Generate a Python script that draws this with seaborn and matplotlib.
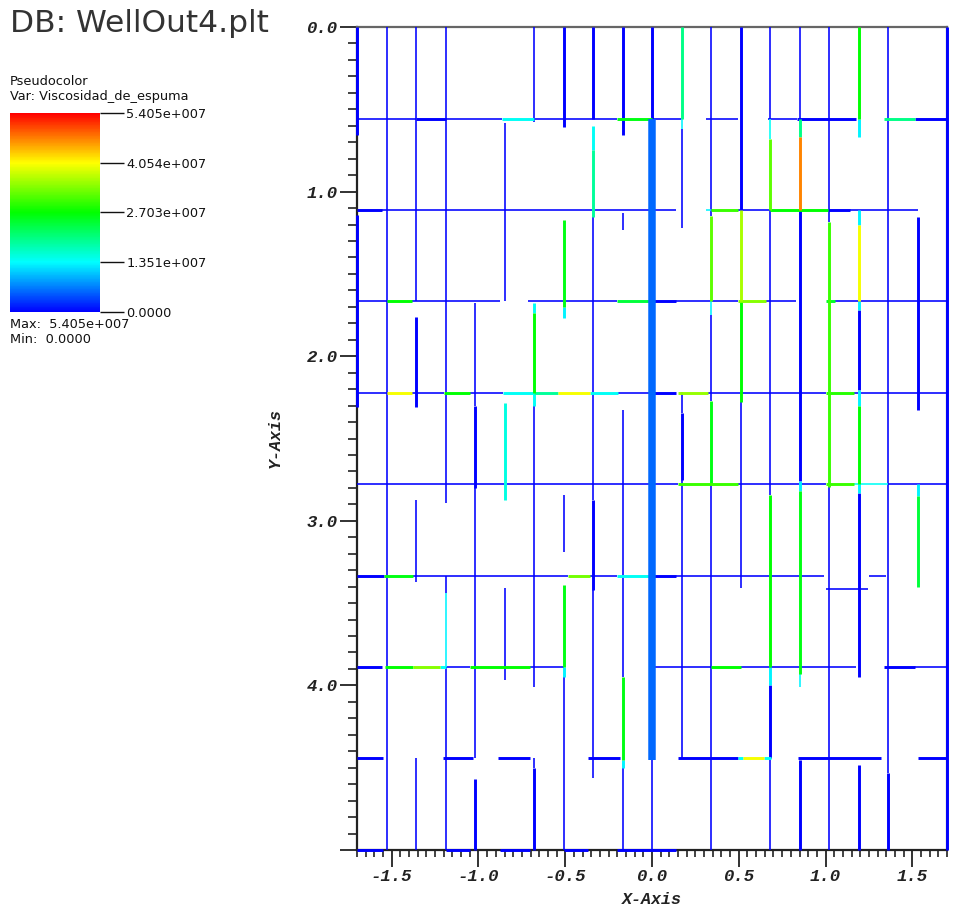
import matplotlib
matplotlib.use("Agg")
import numpy as np
import pandas as pd
import matplotlib.pyplot as plt
import seaborn as sns
from matplotlib.colors import LinearSegmentedColormap, Normalize
from matplotlib.cm import ScalarMappable
from matplotlib.ticker import MultipleLocator

# ---------------- data ----------------
TITLE = "DB: WellOut4.plt"
PLOT_NAME = "Pseudocolor"
VAR_NAME = "Var: Viscosidad_de_espuma"
VMIN, VMAX = 0.0, 5.405          # in units of 1e7
CBAR_TICKS = [0.0, 1.351, 2.703, 4.054, 5.405]
CBAR_LABELS = ["0.0000", "1.351e+007", "2.703e+007", "4.054e+007", "5.405e+007"]
MAX_TEXT = "Max:  5.405e+007"
MIN_TEXT = "Min:  0.0000"

X_TICKS = [-1.5, -1.0, -0.5, 0.0, 0.5, 1.0, 1.5]
X_TICK_LABELS = ["-1.5", "-1.0", "-0.5", "0.0", "0.5", "1.0", "1.5"]
Y_TICKS = [0, 1, 2, 3, 4, 5]
Y_TICK_LABELS = ["0.0", "1.0", "2.0", "3.0", "4.0", ""]
X_RANGE = (-1.7, 1.7)
Y_RANGE = (5.0, 0.0)

# vertical fracture segments: (x, y_start, y_end, value[1e7], aperture)
VERTICAL = [
    (-1.70, 0.000, 0.656, 0.0, "thick"), (-1.70, 1.140, 2.309, 0.0, "thick"),
    (-1.53, 0.000, 5.000, 0.0, "thin"),
    (-1.36, 0.000, 1.667, 0.0, "thin"), (-1.36, 1.762, 2.309, 0.0, "thick"),
    (-1.36, 2.874, 3.372, 0.0, "thin"), (-1.36, 4.444, 5.000, 0.0, "thin"),
    (-1.19, 0.000, 2.892, 0.0, "thin"), (-1.19, 3.333, 3.440, 0.0, "thin"),
    (-1.19, 3.440, 3.889, 1.3, "thin"), (-1.19, 3.889, 5.000, 0.0, "thin"),
    (-1.02, 1.677, 2.300, 0.0, "thin"), (-1.02, 2.300, 2.800, 0.0, "thick"),
    (-1.02, 2.800, 4.444, 0.0, "thin"), (-1.02, 4.570, 5.000, 0.0, "thick"),
    (-0.85, 0.583, 1.667, 0.0, "thin"), (-0.85, 2.284, 2.874, 1.5, "thick"),
    (-0.85, 3.408, 3.967, 0.0, "thin"),
    (-0.68, 0.000, 0.577, 0.0, "thin"), (-0.68, 1.677, 1.740, 1.4, "thick"),
    (-0.68, 1.740, 2.222, 2.7, "thick"), (-0.68, 2.222, 2.300, 1.4, "thick"),
    (-0.68, 2.300, 4.010, 0.0, "thin"), (-0.68, 4.444, 4.500, 0.0, "thin"),
    (-0.68, 4.500, 5.000, 0.0, "thick"),
    (-0.51, 0.000, 0.608, 0.0, "thick"), (-0.51, 1.173, 1.700, 2.6, "thick"),
    (-0.51, 1.700, 1.768, 1.3, "thick"), (-0.51, 2.843, 3.190, 0.0, "thin"),
    (-0.51, 3.390, 3.889, 2.6, "thick"), (-0.51, 3.889, 3.950, 1.3, "thick"),
    (-0.51, 3.950, 5.000, 0.0, "thin"),
    (-0.34, 0.000, 0.556, 0.0, "thick"), (-0.34, 0.600, 0.750, 1.4, "thick"),
    (-0.34, 0.750, 1.154, 1.9, "thick"), (-0.34, 1.154, 2.874, 0.0, "thin"),
    (-0.34, 2.874, 3.420, 0.0, "thick"), (-0.34, 3.420, 4.563, 0.0, "thin"),
    (-0.17, 0.000, 0.656, 0.0, "thick"), (-0.17, 1.130, 1.233, 0.0, "thin"),
    (-0.17, 2.327, 3.949, 0.0, "thin"), (-0.17, 3.949, 4.453, 2.6, "thick"),
    (-0.17, 4.453, 4.500, 1.3, "thick"), (-0.17, 4.500, 5.000, 0.0, "thin"),
    (0.00, 0.000, 0.556, 0.0, "thick"), (0.00, 0.556, 4.453, 0.55, "bar"),
    (0.00, 4.453, 5.000, 0.0, "thin"),
    (0.17, 0.000, 0.556, 2.0, "thick"), (0.17, 0.556, 0.620, 1.3, "thin"),
    (0.17, 0.620, 1.221, 0.0, "thin"), (0.17, 2.218, 2.345, 0.0, "thin"),
    (0.17, 2.345, 2.750, 0.0, "thick"), (0.17, 2.750, 4.444, 0.0, "thin"),
    (0.34, 0.000, 1.150, 0.0, "thin"), (0.34, 1.150, 1.667, 3.2, "thick"),
    (0.34, 1.667, 1.750, 1.3, "thin"), (0.34, 1.750, 2.270, 0.0, "thin"),
    (0.34, 2.270, 2.778, 2.6, "thick"), (0.34, 2.778, 5.000, 0.0, "thin"),
    (0.51, 0.000, 1.111, 0.0, "thick"), (0.51, 1.111, 1.667, 3.6, "thick"),
    (0.51, 1.667, 2.280, 2.7, "thick"), (0.51, 2.280, 3.410, 0.0, "thin"),
    (0.68, 0.000, 0.556, 0.0, "thin"), (0.68, 0.556, 0.680, 1.4, "thin"),
    (0.68, 0.680, 1.111, 3.2, "thick"), (0.68, 1.111, 2.843, 0.0, "thin"),
    (0.68, 2.843, 3.889, 2.7, "thick"), (0.68, 3.889, 4.000, 1.3, "thick"),
    (0.68, 4.000, 4.444, 0.0, "thick"), (0.68, 4.444, 5.000, 0.0, "thin"),
    (0.85, 0.000, 0.556, 0.0, "thin"), (0.85, 0.556, 0.670, 2.0, "thick"),
    (0.85, 0.670, 1.111, 4.7, "thick"), (0.85, 1.111, 2.760, 0.0, "thick"),
    (0.85, 2.760, 2.820, 1.3, "thick"), (0.85, 2.820, 3.930, 2.6, "thick"),
    (0.85, 3.930, 4.010, 1.3, "thin"), (0.85, 4.453, 5.000, 0.0, "thick"),
    (1.02, 0.000, 1.185, 0.0, "thin"), (1.02, 1.185, 2.795, 3.0, "thick"),
    (1.02, 2.795, 5.000, 0.0, "thin"),
    (1.19, 0.000, 0.556, 2.7, "thick"), (1.19, 0.556, 0.668, 1.3, "thick"),
    (1.19, 1.111, 1.200, 1.3, "thick"), (1.19, 1.200, 1.667, 4.0, "thick"),
    (1.19, 1.667, 1.720, 1.3, "thick"), (1.19, 1.720, 2.205, 0.0, "thick"),
    (1.19, 2.205, 2.300, 1.3, "thick"), (1.19, 2.300, 2.778, 2.7, "thick"),
    (1.19, 2.778, 2.830, 1.3, "thick"), (1.19, 2.830, 3.950, 0.0, "thick"),
    (1.19, 4.483, 5.000, 0.0, "thick"),
    (1.36, 0.000, 4.530, 0.0, "thin"), (1.36, 4.530, 5.000, 0.0, "thick"),
    (1.53, 1.154, 2.327, 0.0, "thick"), (1.53, 2.778, 2.850, 1.3, "thick"),
    (1.53, 2.850, 3.402, 2.4, "thick"),
    (1.70, 0.000, 5.000, 0.0, "thick"),
]

# horizontal fracture segments: (y, x_start, x_end, value[1e7], aperture)
HORIZONTAL = [
    (0.556, -1.700, -1.360, 0.0, "thin"), (0.556, -1.360, -1.190, 0.0, "thick"),
    (0.556, -1.190, -0.867, 0.0, "thin"), (0.556, -0.867, -0.680, 1.4, "thick"),
    (0.556, -0.680, -0.204, 0.0, "thin"), (0.556, -0.204, 0.000, 2.6, "thick"),
    (0.556, 0.000, 0.165, 0.0, "thin"), (0.556, 0.309, 0.493, 0.0, "thin"),
    (0.556, 0.666, 0.833, 0.0, "thin"), (0.556, 0.833, 1.173, 0.0, "thick"),
    (0.556, 1.336, 1.513, 2.0, "thick"), (0.556, 1.513, 1.700, 0.0, "thick"),
    (1.111, -1.700, -1.555, 0.0, "thick"), (1.111, -1.555, 0.136, 0.0, "thin"),
    (1.111, 0.309, 0.340, 1.3, "thin"), (1.111, 0.340, 0.493, 3.0, "thick"),
    (1.111, 0.493, 0.680, 0.0, "thin"), (1.111, 0.680, 1.013, 2.7, "thick"),
    (1.111, 1.013, 1.139, 0.0, "thick"), (1.111, 1.139, 1.530, 0.0, "thin"),
    (1.667, -1.700, -1.530, 0.0, "thin"), (1.667, -1.530, -1.382, 2.7, "thick"),
    (1.667, -1.382, -0.874, 0.0, "thin"), (1.667, -0.714, -0.199, 0.0, "thin"),
    (1.667, -0.199, 0.000, 2.4, "thick"), (1.667, 0.000, 0.136, 0.0, "thick"),
    (1.667, 0.136, 0.493, 0.0, "thin"), (1.667, 0.493, 0.655, 3.4, "thick"),
    (1.667, 0.655, 0.828, 0.0, "thin"), (1.667, 1.001, 1.054, 2.5, "thick"),
    (1.667, 1.054, 1.700, 0.0, "thin"),
    (2.222, -1.700, -1.530, 0.0, "thin"), (2.222, -1.530, -1.382, 4.0, "thick"),
    (2.222, -1.382, -1.199, 0.0, "thin"), (2.222, -1.199, -1.047, 2.7, "thick"),
    (2.222, -1.047, -0.857, 0.0, "thin"), (2.222, -0.857, -0.680, 1.4, "thick"),
    (2.222, -0.680, -0.544, 1.9, "thick"), (2.222, -0.544, -0.357, 4.0, "thick"),
    (2.222, -0.357, -0.194, 1.4, "thick"), (2.222, -0.194, 0.000, 0.0, "thin"),
    (2.222, 0.000, 0.136, 0.0, "thick"), (2.222, 0.148, 0.320, 3.5, "thick"),
    (2.222, 0.320, 1.001, 0.0, "thin"), (2.222, 1.001, 1.163, 2.9, "thick"),
    (2.222, 1.163, 1.700, 0.0, "thin"),
    (2.778, -1.700, 0.148, 0.0, "thin"), (2.778, 0.148, 0.493, 3.0, "thick"),
    (2.778, 0.493, 1.001, 0.0, "thin"), (2.778, 1.001, 1.163, 3.0, "thick"),
    (2.778, 1.163, 1.360, 1.4, "thin"), (2.778, 1.360, 1.700, 0.0, "thin"),
    (3.333, -1.700, -1.547, 0.0, "thick"), (3.333, -1.547, -1.377, 2.6, "thick"),
    (3.333, -1.377, -0.483, 0.0, "thin"), (3.333, -0.483, -0.357, 3.3, "thick"),
    (3.333, -0.357, -0.199, 0.0, "thin"), (3.333, -0.199, 0.000, 1.4, "thick"),
    (3.333, 0.000, 0.136, 0.0, "thick"), (3.333, 0.136, 0.989, 0.0, "thin"),
    (3.333, 1.250, 1.348, 0.0, "thin"), (3.414, 1.001, 1.244, 0.0, "thin"),
    (3.889, -1.700, -1.555, 0.0, "thick"), (3.889, -1.539, -1.377, 2.7, "thick"),
    (3.889, -1.377, -1.221, 3.4, "thick"), (3.889, -1.221, -1.190, 1.4, "thick"),
    (3.889, -1.190, -1.047, 0.0, "thin"), (3.889, -1.047, -0.702, 2.7, "thick"),
    (3.889, -0.702, -0.510, 0.0, "thin"), (3.889, 0.000, 0.340, 0.0, "thin"),
    (3.889, 0.340, 0.510, 2.7, "thick"), (3.889, 0.510, 1.173, 0.0, "thin"),
    (3.889, 1.336, 1.513, 0.0, "thick"), (3.889, 1.513, 1.700, 0.0, "thin"),
    (4.444, -1.700, -1.550, 0.0, "thick"), (4.444, -1.204, -1.030, 0.0, "thick"),
    (4.444, -0.886, -0.702, 0.0, "thick"), (4.444, -0.367, -0.182, 0.0, "thick"),
    (4.444, 0.148, 0.493, 0.0, "thick"), (4.444, 0.493, 0.527, 1.4, "thick"),
    (4.444, 0.527, 0.646, 4.0, "thick"), (4.444, 0.646, 0.683, 1.4, "thick"),
    (4.444, 0.840, 1.319, 0.0, "thick"), (4.444, 1.533, 1.700, 0.0, "thick"),
    (5.000, -1.700, -1.550, 0.0, "thick"), (5.000, -1.190, -1.047, 0.0, "thick"),
    (5.000, -0.874, -0.702, 0.0, "thick"), (5.000, -0.510, -0.367, 0.0, "thick"),
    (5.000, -0.199, 0.136, 0.0, "thick"),
]

# ---------------- build long table ----------------
rows = []
seg = 0
for x, y0, y1, v, ap in VERTICAL:
    rows.append((seg, x, y0, v, ap))
    rows.append((seg, x, y1, v, ap))
    seg += 1
for y, x0, x1, v, ap in HORIZONTAL:
    rows.append((seg, x0, y, v, ap))
    rows.append((seg, x1, y, v, ap))
    seg += 1
df = pd.DataFrame(rows, columns=["seg", "x", "y", "val", "ap"])

# ---------------- style ----------------
sns.set_style("ticks")
plt.rcParams["font.family"] = ["DejaVu Sans"]
plt.rcParams["axes.unicode_minus"] = False
plt.rcParams["lines.solid_capstyle"] = "butt"

cmap = LinearSegmentedColormap.from_list(
    "visit_hot", ["#0000ff", "#00ffff", "#00ff00", "#ffff00", "#ff0000"])
norm = Normalize(VMIN, VMAX)

W, H = 954, 907
fig = plt.figure(figsize=(W / 100, H / 100), dpi=100)
fig.patch.set_facecolor("white")
ax = fig.add_axes([357 / W, 1 - 850 / H, 590 / W, 823 / H])

SIZES = {"thin": 1.15, "thick": 2.1, "bar": 5.4}
sns.lineplot(data=df, x="x", y="y", units="seg", estimator=None, sort=False,
             hue="val", hue_norm=norm, palette=cmap,
             size="ap", sizes=SIZES, legend=False, ax=ax)

for ln in ax.lines:
    ln.set_clip_on(False)
    ln.set_solid_capstyle("butt")
    ln.set_zorder(3 + ln.get_linewidth())

ax.set_xlim(*X_RANGE)
ax.set_ylim(*Y_RANGE)

tick_font = dict(family="Liberation Mono", weight="bold", style="italic", size=12.5)
ax.set_xticks(X_TICKS)
ax.set_xticklabels(X_TICK_LABELS, fontdict=tick_font, color="#222222")
ax.set_yticks(Y_TICKS)
ax.set_yticklabels(Y_TICK_LABELS, fontdict=tick_font, color="#222222")
ax.xaxis.set_minor_locator(MultipleLocator(0.05))
ax.yaxis.set_minor_locator(MultipleLocator(0.1))
ax.tick_params(which="major", direction="out", length=12, width=1.3,
               color="#222222", pad=2)
ax.tick_params(axis="x", which="minor", direction="out", length=5, width=1.2,
               color="#222222")
ax.tick_params(axis="y", which="minor", direction="out", length=6.5, width=1.2,
               color="#222222")

lab_font = dict(family="Liberation Mono", weight="bold", style="italic", size=12)
ax.set_xlabel("X-Axis", fontdict=lab_font, color="#222222")
ax.set_ylabel("Y-Axis", fontdict=lab_font, color="#222222")
ax.xaxis.set_label_coords(0.5, -0.0515)
ax.yaxis.set_label_coords(-0.126, 0.5)

for side, sp in ax.spines.items():
    sp.set_visible(True)
    sp.set_color("#222222" if side in ("left", "bottom") else "#666666")
    sp.set_linewidth(1.6)
    sp.set_zorder(2.5)

# ---------------- legend / annotation ----------------
fig.text(10 / W, 1 - 32 / H, TITLE, fontsize=22.5, color="#333333",
         ha="left", va="baseline")
small = dict(fontsize=9.3, color="#111111", ha="left", va="baseline")
fig.text(10 / W, 1 - 85 / H, PLOT_NAME, **small)
fig.text(10 / W, 1 - 100 / H, VAR_NAME, **small)
fig.text(10 / W, 1 - 328 / H, MAX_TEXT, **small)
fig.text(10 / W, 1 - 343 / H, MIN_TEXT, **small)

cax = fig.add_axes([10 / W, 1 - 312 / H, 90 / W, 199 / H])
cb = fig.colorbar(ScalarMappable(norm=norm, cmap=cmap), cax=cax)
cb.outline.set_visible(False)
cb.set_ticks(CBAR_TICKS)
cb.set_ticklabels(CBAR_LABELS)
cax.tick_params(length=17, width=1.0, pad=2, labelsize=9.3, color="#111111",
                labelcolor="#111111", direction="out")
cax.minorticks_off()

fig.savefig("out.png", dpi=100, facecolor="white")
